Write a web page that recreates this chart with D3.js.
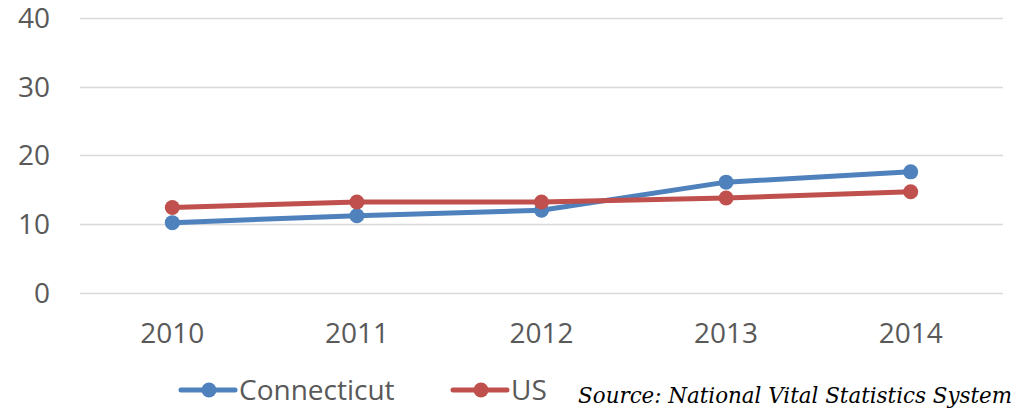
<!DOCTYPE html>
<html>
<head>
<meta charset="utf-8">
<script src="https://cdn.jsdelivr.net/npm/d3@7"></script>
<style>
  body { margin: 0; background: #fff; }
  text { font-family: "Open Sans", sans-serif; fill: #595959; }
</style>
</head>
<body>
<div id="chart"></div>
<script>
// chart data
var years = ["2010", "2011", "2012", "2013", "2014"];
var connecticut = [10.2, 11.2, 12.0, 16.1, 17.6];
var us = [12.4, 13.2, 13.2, 13.8, 14.7];
var yTicks = [0, 10, 20, 30, 40];
var seriesNames = ["Connecticut", "US"];
var seriesColors = ["#4F81BD", "#C0504D"];

var width = 1016, height = 411;
var margin = {left: 80, right: 13, top: 18, bottom: 118};

var svg = d3.select("#chart").append("svg")
    .attr("width", width)
    .attr("height", height);

var x = d3.scaleBand()
    .domain(years)
    .range([margin.left, width - margin.right]);

var y = d3.scaleLinear()
    .domain([0, 40])
    .range([height - margin.bottom - 0.3, margin.top]);

// gridlines
svg.append("g").selectAll("line")
    .data(yTicks)
    .enter().append("line")
    .attr("x1", margin.left)
    .attr("x2", width - margin.right)
    .attr("y1", function (d) { return Math.round(y(d)) + 0.5; })
    .attr("y2", function (d) { return Math.round(y(d)) + 0.5; })
    .attr("stroke", "#d9d9d9")
    .attr("stroke-width", 1.3);

// y tick labels
svg.append("g").selectAll("text")
    .data(yTicks)
    .enter().append("text")
    .attr("x", 50)
    .attr("y", function (d) { return y(d); })
    .attr("dy", "0.36em")
    .attr("text-anchor", "end")
    .style("font-size", "28px")
    .text(function (d) { return d; });

// x tick labels
svg.append("g").selectAll("text")
    .data(years)
    .enter().append("text")
    .attr("x", function (d) { return x(d) + x.bandwidth() / 2; })
    .attr("y", 343)
    .attr("text-anchor", "middle")
    .style("font-size", "28px")
    .text(function (d) { return d; });

var line = d3.line()
    .x(function (d, i) { return x(years[i]) + x.bandwidth() / 2; })
    .y(function (d) { return y(d); });

// Connecticut first, US drawn on top
[connecticut, us].forEach(function (vals, k) {
    var g = svg.append("g");
    g.append("path")
        .datum(vals)
        .attr("d", line)
        .attr("fill", "none")
        .attr("stroke", seriesColors[k])
        .attr("stroke-width", 5)
        .attr("stroke-linejoin", "round")
        .attr("stroke-linecap", "round");
    g.selectAll("circle")
        .data(vals)
        .enter().append("circle")
        .attr("cx", function (d, i) { return x(years[i]) + x.bandwidth() / 2; })
        .attr("cy", function (d) { return y(d); })
        .attr("r", 7.5)
        .attr("fill", seriesColors[k]);
});

// legend
var legendX = [181, 453];
seriesNames.forEach(function (name, k) {
    var lg = svg.append("g").attr("transform", "translate(" + legendX[k] + ",390)");
    lg.append("line")
        .attr("x1", 0).attr("x2", 54)
        .attr("stroke", seriesColors[k])
        .attr("stroke-width", 5)
        .attr("stroke-linecap", "round");
    lg.append("circle")
        .attr("cx", 28).attr("r", 7.5)
        .attr("fill", seriesColors[k]);
    lg.append("text")
        .attr("x", 58)
        .attr("dy", "0.36em")
        .style("font-size", "28px")
        .text(name);
});

// source note
svg.append("text")
    .attr("x", 1012)
    .attr("y", 403)
    .attr("text-anchor", "end")
    .style("font-family", "'DejaVu Serif', serif")
    .style("font-style", "italic")
    .style("font-size", "21.4px")
    .style("fill", "#000")
    .text("Source: National Vital Statistics System");
</script>
</body>
</html>
